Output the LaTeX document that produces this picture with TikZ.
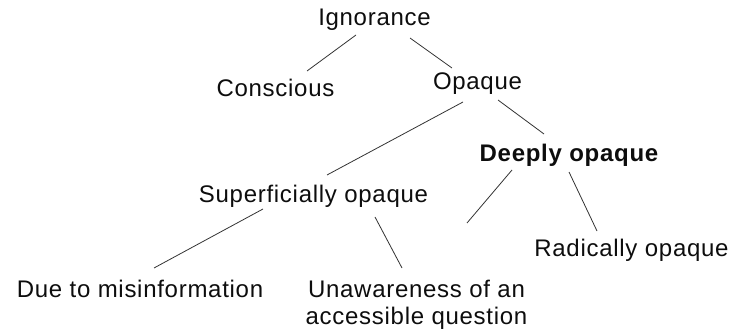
\documentclass[tikz,border=0pt]{standalone}
\usepackage{fontspec}
\setmainfont{Liberation Sans}[LetterSpace=3]
\usepackage{tikz}

\begin{document}
\begin{tikzpicture}[x=1pt,y=-1pt]
    \tikzstyle{every node}+=[inner sep=0pt,anchor=base,text=black!95,font=\fontsize{24}{27}\selectfont]
    \tikzstyle{branch}=[draw=black!80,line width=0.8pt]
    \useasboundingbox (0,0) rectangle (731,336);
    \node (ign) at (374.5,26) {Ignorance};
    \node (con) at (275.5,97) {Conscious};
    \node (opq) at (477.5,90) {Opaque};
    \node (deep) at (569,162) {\bfseries Deeply opaque};
    \node (sup) at (313.5,203) {Superficially opaque};
    \node (rad) at (631.5,257) {Radically opaque};
    \node (due) at (140,298) {Due to misinformation};
    \node (una) at (416.5,298) {\begin{tabular}[t]{@{}c@{}}Unawareness of an\\accessible question\end{tabular}};
    \coordinate (open) at (467,223);
    \draw [branch] ([shift={(-18.5,9)}]ign.base) -- ([shift={(31.5,-26)}]con.base);
    \draw [branch] ([shift={(35.5,12)}]ign.base) -- ([shift={(-25.5,-22)}]opq.base);
    \draw [branch] ([shift={(-14.5,12)}]opq.base) -- ([shift={(13.5,-28)}]sup.base);
    \draw [branch] ([shift={(20.5,10)}]opq.base) -- ([shift={(-25,-28)}]deep.base);
    \draw [branch] ([shift={(-57,8)}]deep.base) -- (open);
    \draw [branch] ([shift={(0,10)}]deep.base) -- ([shift={(-34.5,-26)}]rad.base);
    \draw [branch] ([shift={(-50.5,6)}]sup.base) -- ([shift={(14,-30)}]due.base);
    \draw [branch] ([shift={(61.5,14)}]sup.base) -- ([shift={(-14.5,-30)}]una.base);
\end{tikzpicture}
\end{document}
